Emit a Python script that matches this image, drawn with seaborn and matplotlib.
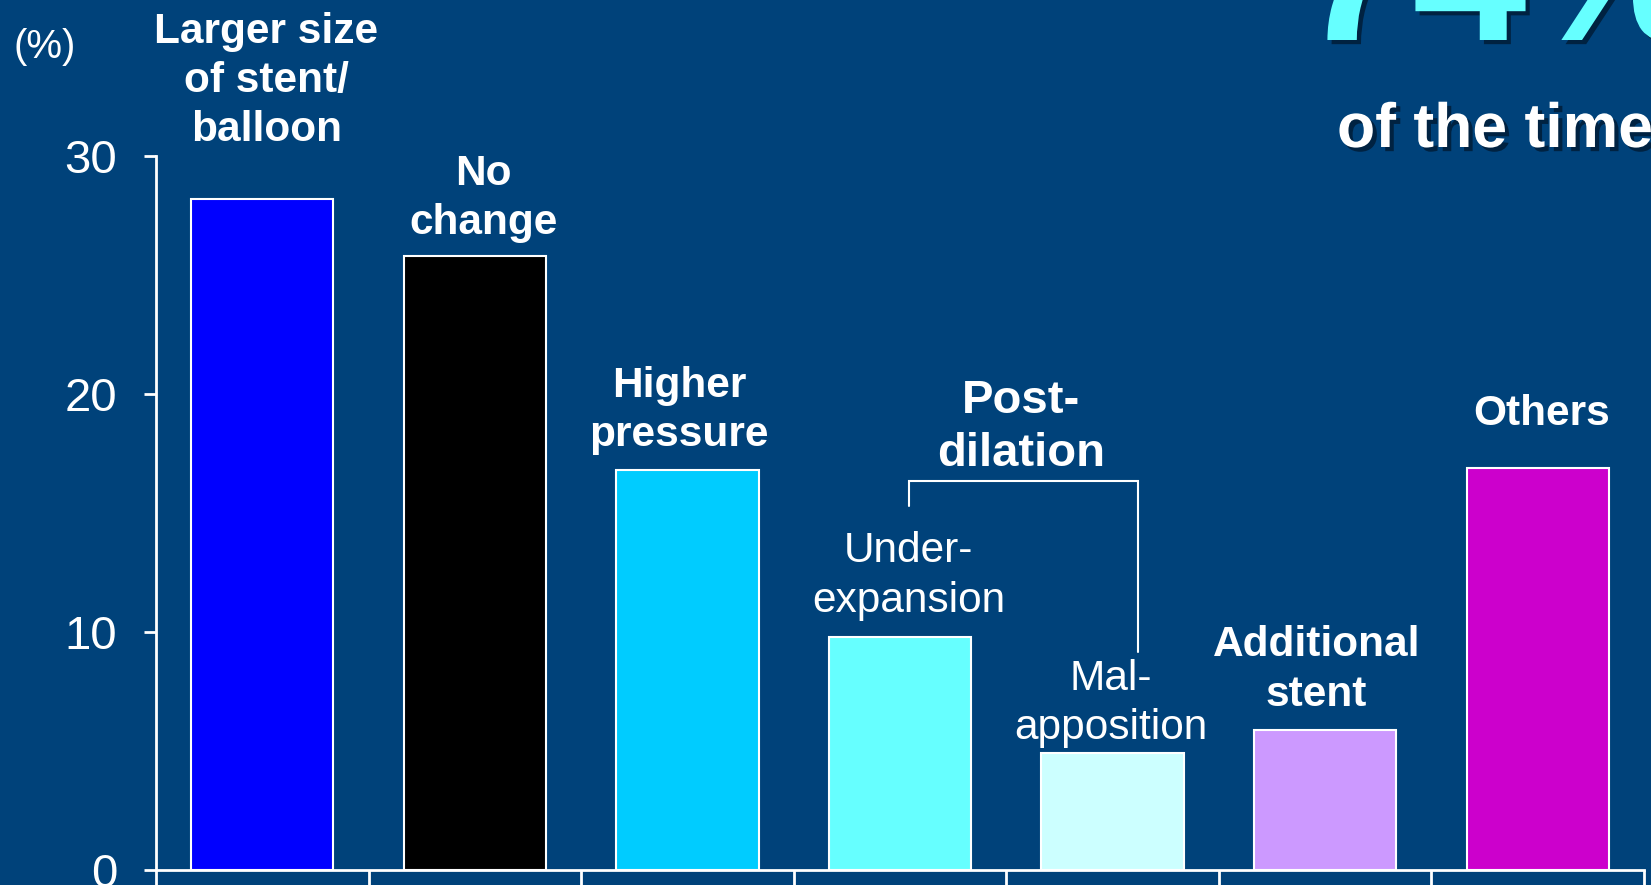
import matplotlib
matplotlib.use("Agg")
import matplotlib.pyplot as plt
import matplotlib.patheffects as pe
import pandas as pd
import seaborn as sns

# Reasons for changing strategy after imaging (%)
categories = ["Larger size\nof stent/\nballoon", "No\nchange", "Higher\npressure",
              "Under-\nexpansion", "Mal-\napposition", "Additional\nstent", "Others"]
values = [28.2, 25.8, 16.8, 9.8, 4.9, 5.9, 16.9]
bar_colors = ["#0000FF", "#000000", "#00CCFF", "#66FFFF", "#CCFFFF", "#CC99FF", "#CC00CC"]
bold_label = [True, True, True, False, False, True, True]
yticks = [0, 10, 20, 30]
group_label = "Post-\ndilation"
headline = "74%"
subline = "of the time"

# label placement (category offset, y centre in data units)
label_dx = [0.02, 0.04, -0.04, 0.04, -0.01, -0.04, 0.02]
label_y = [33.15, 28.2, 19.3, 12.35, 7.0, 8.4, 19.15]

BG = "#00427A"
sns.set_theme(style="white")
plt.rcParams["font.family"] = ["Liberation Sans", "DejaVu Sans"]

fig = plt.figure(figsize=(16.51, 8.85), dpi=100, facecolor=BG)
ax = fig.add_axes([156 / 1651, 15 / 885, 1488 / 1651, 714 / 885])
ax.set_facecolor(BG)

df = pd.DataFrame({"cat": categories, "val": values})
sns.barplot(data=df, x="cat", y="val", hue="cat", palette=bar_colors, legend=False,
            width=0.67, edgecolor="white", linewidth=1.5, saturation=1, ax=ax)

ax.set_xlim(-0.5, len(categories) - 0.5)
ax.set_ylim(0, 30)
ax.set_xlabel("")
ax.set_ylabel("")

for side in ("top", "right"):
    ax.spines[side].set_visible(False)
for side in ("left", "bottom"):
    ax.spines[side].set_color("white")
    ax.spines[side].set_linewidth(2)
ax.spines["left"].set_bounds(0, 30)

ax.set_yticks(yticks)
ax.set_yticklabels([str(t) for t in yticks])
ax.tick_params(axis="y", direction="out", length=9, width=2, color="white",
               labelcolor="white", labelsize=34, pad=19, left=True)
ax.set_xticks([i - 0.5 for i in range(len(categories) + 1)])
ax.set_xticklabels([])
ax.tick_params(axis="x", direction="out", length=14, width=2, color="white", bottom=True)

# category labels above the bars
for i, (lab, dx, y, b) in enumerate(zip(categories, label_dx, label_y, bold_label)):
    ax.text(i + dx, y, lab, ha="center", va="center", color="white", fontsize=30.5,
            fontweight="bold" if b else "normal", linespacing=1.3, clip_on=False)

# grouping bracket over the two post-dilation reasons
ax.text(3.57, 18.6, group_label, ha="center", va="center", color="white", fontsize=34,
        fontweight="bold", linespacing=1.28, clip_on=False)
ax.plot([3.04, 3.04, 4.12, 4.12], [15.3, 16.35, 16.35, 9.15], color="white", lw=1.5,
        clip_on=False, solid_joinstyle="miter")

# unit label
fig.text(13 / 1651, 1 - 47 / 885, "(%)", color="white", fontsize=29, ha="left", va="center")

shadow = [pe.withSimplePatchShadow(offset=(3, -3), shadow_rgbFace="#001A33", alpha=0.8)]
fig.text(1298 / 1651, 1 - 40 / 885, headline, color="#66FFFF", fontsize=148,
         fontweight="bold", ha="left", va="baseline", path_effects=shadow)
fig.text(1337 / 1651, 1 - 147 / 885, subline, color="white", fontsize=45,
         fontweight="bold", ha="left", va="baseline", path_effects=shadow)

fig.savefig("out.png", dpi=100, facecolor=BG)
